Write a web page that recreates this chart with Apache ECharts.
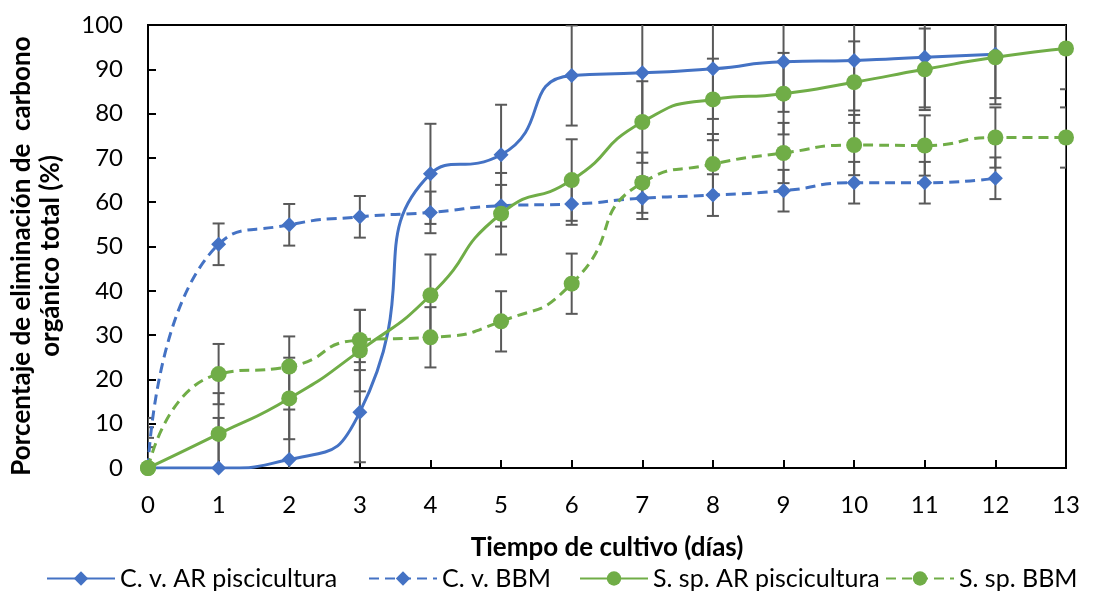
<!DOCTYPE html>
<html>
<head>
<meta charset="utf-8">
<script src="https://cdn.jsdelivr.net/npm/echarts@6/dist/echarts.min.js"></script>
<style>
  html, body { margin: 0; padding: 0; background: #fff; }
  #chart { width: 1100px; height: 592px; }
</style>
</head>
<body>
<div id="chart"></div>
<script>
// Culture days (x axis tick labels)
const days = ['0', '1', '2', '3', '4', '5', '6', '7', '8', '9', '10', '11', '12', '13'];

// Series names
const names = ['C. v. AR piscicultura', 'C. v. BBM', 'S. sp. AR piscicultura', 'S. sp. BBM'];

// Total organic carbon removal (%) per day
const cvAR = [0, 0, 1.9, 12.6, 66.4, 70.7, 88.6, 89.2, 90.1, 91.7, 92.0, 92.7, 93.4];
const cvBBM = [0, 50.5, 54.9, 56.7, 57.7, 59.2, 59.6, 60.9, 61.6, 62.6, 64.4, 64.4, 65.4];
const ssAR = [0, 7.7, 15.7, 26.5, 39.0, 57.4, 65.0, 78.1, 83.2, 84.5, 87.1, 90.0, 92.7, 94.7];
const ssBBM = [0, 21.2, 22.9, 28.9, 29.5, 33.1, 41.6, 64.4, 68.6, 71.1, 72.9, 72.8, 74.6, 74.6];

// Error bar half-widths (%)
const cvARErr = [11.3, 11.3, 11.3, 11.3, 11.3, 11.3, 11.3, 11.3, 11.3, 11.3, 11.3, 11.3, 11.3];
const cvBBMErr = [4.7, 4.7, 4.7, 4.7, 4.7, 4.7, 4.7, 4.7, 4.7, 4.7, 4.7, 4.7, 4.7];
const ssARErr = [9.2, 9.2, 9.2, 9.2, 9.2, 9.2, 9.2, 9.2, 9.2, 9.2, 9.2, 9.2, 9.2, 9.2];
const ssBBMErr = [6.8, 6.8, 6.8, 6.8, 6.8, 6.8, 6.8, 6.8, 6.8, 6.8, 6.8, 6.8, 6.8, 6.8];

// Axis titles
const xTitle = 'Tiempo de cultivo (días)';
const yTitle = 'Porcentaje de eliminación de  carbono\norgánico total (%)';

const BLUE = '#4472C4';
const GREEN = '#70AD47';
const ERR = '#595959';
const FONT = 'Lato';

// Vertical error bars with caps, clipped to the plot area
function errorBars(label, values, errs) {
  return {
    type: 'custom',
    name: label + ' (error)',
    clip: true,
    silent: true,
    z: 1,
    data: values.map((v, i) => [i, v, errs[i]]),
    encode: { x: 0, y: 1 },
    renderItem(params, api) {
      const x = api.value(0), v = api.value(1), e = api.value(2);
      const top = api.coord([x, v + e]);
      const bot = api.coord([x, v - e]);
      const hw = 6;
      const st = { stroke: ERR, lineWidth: 2 };
      return {
        type: 'group',
        children: [
          { type: 'line', shape: { x1: top[0], y1: top[1], x2: bot[0], y2: bot[1] }, style: st },
          { type: 'line', shape: { x1: top[0] - hw, y1: top[1], x2: top[0] + hw, y2: top[1] }, style: st },
          { type: 'line', shape: { x1: bot[0] - hw, y1: bot[1], x2: bot[0] + hw, y2: bot[1] }, style: st }
        ]
      };
    }
  };
}

function lineSeries(label, values, color, symbol, size, dashed) {
  return {
    type: 'line',
    name: label,
    data: values,
    smooth: 0.6,
    z: 3,
    symbol: symbol,
    symbolSize: size,
    showAllSymbol: true,
    itemStyle: { color: color },
    lineStyle: { color: color, width: 3, type: dashed ? [10, 6] : 'solid' },
    emphasis: { disabled: true }
  };
}

// One legend entry per block so every entry sits at its own left offset
const legendLeft = [41, 363, 574, 880];
const legends = names.map((n, i) => ({
  data: [n],
  top: 561,
  left: legendLeft[i],
  itemWidth: 68,
  itemHeight: 18,
  textStyle: { fontFamily: FONT, fontSize: 25, color: '#000' }
}));

const chart = echarts.init(document.getElementById('chart'), null, { renderer: 'canvas' });
chart.setOption({
  animation: false,
  textStyle: { fontFamily: FONT },
  grid: {
    left: 148, right: 34, top: 25, bottom: 124,
    show: true, borderColor: '#000', borderWidth: 2, backgroundColor: 'transparent'
  },
  graphic: [{
    type: 'text',
    x: 36,
    y: 256,
    rotation: Math.PI / 2,
    silent: true,
    style: {
      text: yTitle,
      font: 'bold 26px Lato',
      fill: '#000',
      align: 'center',
      verticalAlign: 'middle',
      lineHeight: 29
    }
  }],
  legend: legends,
  xAxis: {
    type: 'category',
    data: days,
    boundaryGap: false,
    name: xTitle,
    nameLocation: 'middle',
    nameGap: 67,
    nameTextStyle: { fontFamily: FONT, fontSize: 26, fontWeight: 'bold', color: '#000' },
    axisLine: { lineStyle: { color: '#000', width: 2 } },
    axisTick: { inside: true, length: 8, lineStyle: { color: '#000', width: 2 }, alignWithLabel: true },
    axisLabel: { fontFamily: FONT, fontSize: 24, color: '#000', margin: 25 },
    splitLine: { show: false }
  },
  yAxis: {
    type: 'value',
    min: 0, max: 100, interval: 10,
    axisLine: { show: true, lineStyle: { color: '#000', width: 2 } },
    axisTick: { show: true, inside: true, length: 8, lineStyle: { color: '#000', width: 2 } },
    axisLabel: { fontFamily: FONT, fontSize: 24, color: '#000', margin: 25 },
    splitLine: { show: false }
  },
  series: [
    errorBars(names[0], cvAR, cvARErr),
    errorBars(names[1], cvBBM, cvBBMErr),
    errorBars(names[2], ssAR, ssARErr),
    errorBars(names[3], ssBBM, ssBBMErr),
    lineSeries(names[0], cvAR, BLUE, 'diamond', 15, false),
    lineSeries(names[1], cvBBM, BLUE, 'diamond', 15, true),
    lineSeries(names[2], ssAR, GREEN, 'circle', 16, false),
    lineSeries(names[3], ssBBM, GREEN, 'circle', 16, true)
  ]
});
</script>
</body>
</html>
